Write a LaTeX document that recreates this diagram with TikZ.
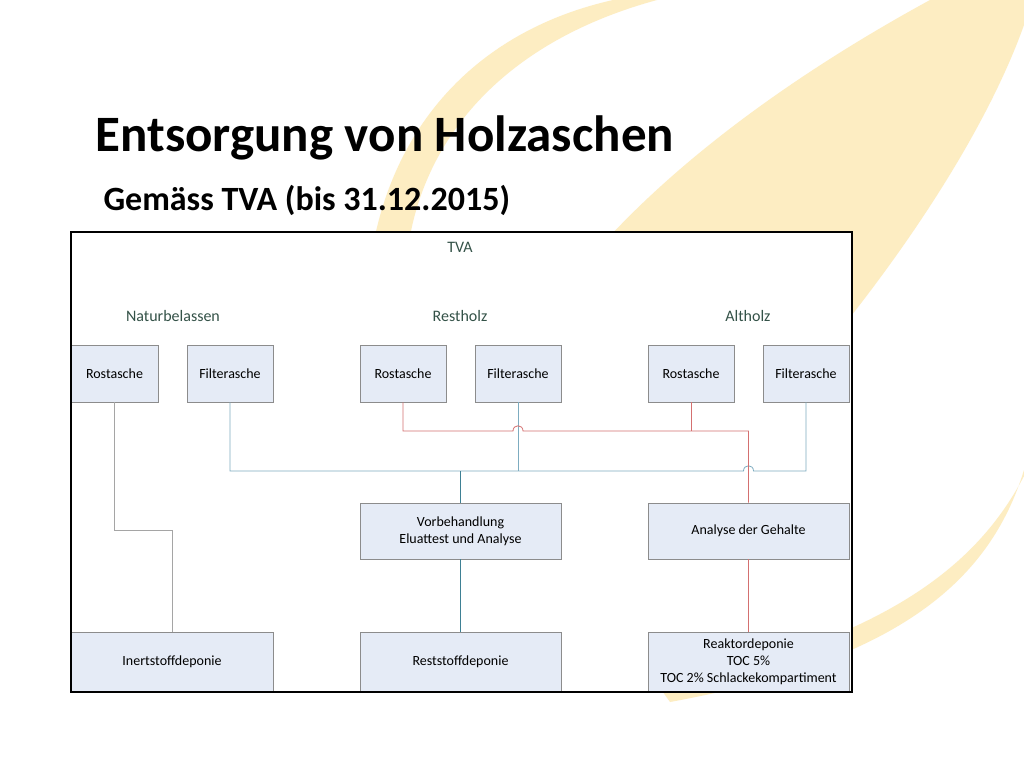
\documentclass[tikz,border=0pt]{standalone}
\usepackage{fontspec}
\setmainfont{Carlito}
\definecolor{swoosh}{RGB}{253,237,194}
\definecolor{boxfill}{RGB}{229,235,246}
\definecolor{boxline}{RGB}{140,140,140}
\definecolor{labelgreen}{RGB}{52,82,72}
\definecolor{blueline}{RGB}{125,172,192}
\definecolor{tealline}{RGB}{62,128,148}
\definecolor{redline}{RGB}{212,112,112}
\definecolor{grayline}{RGB}{165,165,165}

\begin{document}
\begin{tikzpicture}[x=1pt,y=-1pt,
	ashbox/.style={draw=boxline, fill=boxfill, line width=0.8pt, minimum height=57, align=center, inner sep=2pt, font=\fontsize{14}{17}\selectfont},
	grouplabel/.style={text=labelgreen, font=\fontsize{16}{19}\selectfont},
	redlink/.style={draw=redline, line width=0.8pt},
	bluelink/.style={draw=blueline, line width=0.8pt},
	teallink/.style={draw=tealline, line width=0.8pt},
	graylink/.style={draw=grayline, line width=0.8pt}]
	\fill[white] (0,0) rectangle (1024,768);
	\useasboundingbox (0,0) rectangle (1024,768);
	\fill[swoosh] (610,236) .. controls (700,140) and (820,60) .. (930,0) -- (1024,0) -- (1024,25) .. controls (990,120) and (920,230) .. (840,330) -- (600,330) -- cycle;
	\fill[swoosh] (375,236) .. controls (400,120) and (480,30) .. (613,0) -- (657,0) .. controls (510,40) and (430,130) .. (410,236) -- cycle;
	\fill[swoosh] (1024,470) .. controls (990,580) and (900,660) .. (670,702) -- (660,688) .. controls (880,640) and (975,570) .. (1024,476) -- cycle;
	\node[anchor=base west, font=\fontsize{51}{60}\bfseries\selectfont] (title) at (92,151) {Entsorgung von Holzaschen};
	\node[anchor=base west, font=\fontsize{34}{40}\bfseries\selectfont] (subtitle) at (100,210) {Gemäss TVA (bis 31.12.2015)};
	\fill[white] (71,232) rectangle (852,692);
	\node[grouplabel] (tva) at (460,247) {TVA};
	\node[grouplabel] (natur) at (173,316) {Naturbelassen};
	\node[grouplabel] (rest) at (460,316) {Restholz};
	\node[grouplabel] (alt) at (748,316) {Altholz};
	\node[ashbox, minimum width=87] (rost1) at (114.5,373.5) {Rostasche};
	\node[ashbox, minimum width=86] (filt1) at (230,373.5) {Filterasche};
	\node[ashbox, minimum width=86] (rost2) at (403,373.5) {Rostasche};
	\node[ashbox, minimum width=86] (filt2) at (518,373.5) {Filterasche};
	\node[ashbox, minimum width=86] (rost3) at (691,373.5) {Rostasche};
	\node[ashbox, minimum width=86] (filt3) at (806,373.5) {Filterasche};
	\node[ashbox, minimum width=201, minimum height=56] (vorbeh) at (460.5,531) {Vorbehandlung\\Eluattest und Analyse};
	\node[ashbox, minimum width=201, minimum height=56] (analyse) at (748.5,531) {Analyse der Gehalte};
	\node[ashbox, minimum width=202, minimum height=60] (inert) at (172,662) {Inertstoffdeponie};
	\node[ashbox, minimum width=201, minimum height=60] (reststoff) at (460.5,662) {Reststoffdeponie};
	\node[ashbox, minimum width=201, minimum height=60] (reaktor) at (748.5,662) {Reaktordeponie\\TOC 5\%\\TOC 2\% Schlackekompartiment};
	\coordinate (grayturn) at (172,530);
	\coordinate (redhopa) at (513,431);
	\coordinate (redhopb) at (523,431);
	\coordinate (redjoin) at (748.5,431);
	\coordinate (bluehopa) at (743.5,471);
	\coordinate (bluehopb) at (753.5,471);
	\coordinate (bluejoin) at (460.5,471);
	\draw[graylink] (rost1.south) |- (grayturn) -- (inert.north);
	\draw[bluelink] (filt1.south) |- (bluehopa) .. controls +(0,-7) and +(0,-7) .. (bluehopb) -| (filt3.south);
	\draw[bluelink] (filt2.south) -- (filt2.south |- bluejoin);
	\draw[teallink] (bluejoin) -- (vorbeh.north);
	\draw[teallink] (vorbeh.south) -- (reststoff.north);
	\draw[redlink] (rost2.south) |- (redhopa) .. controls +(0,-7) and +(0,-7) .. (redhopb) -- (redjoin) -- (analyse.north);
	\draw[redlink] (rost3.south) -- (rost3.south |- redjoin);
	\draw[redlink] (analyse.south) -- (reaktor.north);
	\draw[line width=1.6pt] (71,232) rectangle (852,692);
\end{tikzpicture}
\end{document}
